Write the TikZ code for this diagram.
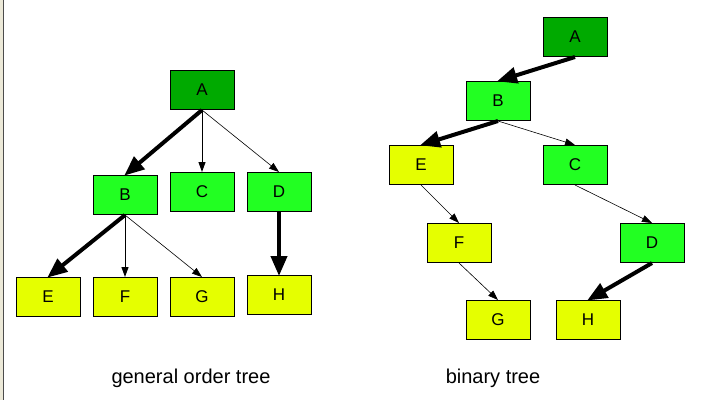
\documentclass[tikz,border=0pt]{standalone}
\usepackage{fontspec}
\setmainfont{Liberation Sans}
\usetikzlibrary{arrows.meta}
\definecolor{rootgreen}{RGB}{0,170,0}
\definecolor{innergreen}{RGB}{34,255,34}
\definecolor{leafyellow}{RGB}{229,255,0}
\definecolor{frameside}{RGB}{236,233,216}

\begin{document}
\begin{tikzpicture}[x=1pt,y=-1pt]
\tikzstyle{every node}=[font=\fontsize{17}{20}\selectfont]
\tikzstyle{box}=[draw=black, line width=1pt, minimum width=64pt, minimum height=39pt, inner sep=0pt]
\tikzstyle{root}=[box, fill=rootgreen]
\tikzstyle{inner}=[box, fill=innergreen]
\tikzstyle{leaf}=[box, fill=leafyellow]
\tikzstyle{heavy}=[line width=4pt, -{Triangle[length=20pt,width=16pt]}, shorten >=-1pt]
\tikzstyle{medium}=[line width=1pt, -{Triangle[length=10pt,width=7pt]}]
\tikzstyle{light}=[line width=0.6pt, -{Triangle[length=10pt,width=7pt]}]
\useasboundingbox (0,0) rectangle (715,400);
\fill[frameside] (0,0) rectangle (3,400);
\draw[gray!60!black, line width=1pt] (3,0) -- (3,400);

% general order tree
\node[root]  (genA) at (202,90)  {A};
\node[inner] (genB) at (125,195) {B};
\node[inner] (genC) at (202,192) {C};
\node[inner] (genD) at (279,192) {D};
\node[leaf]  (genE) at (48,297)  {E};
\node[leaf]  (genF) at (125,297) {F};
\node[leaf]  (genG) at (202,297) {G};
\node[leaf]  (genH) at (279,295) {H};

\draw[heavy]  (genA.south) -- (genB.north);
\draw[medium] (genA.south) -- (genC.north);
\draw[light]  (genA.south) -- (genD.north);
\draw[heavy]  (genB.south) -- (genE.north);
\draw[medium] (genB.south) -- (genF.north);
\draw[light]  (genB.south) -- (genG.north);
\draw[heavy]  (genD.south) -- (genH.north);

% binary tree
\node[root]  (binA) at (575,37)  {A};
\node[inner] (binB) at (498,101) {B};
\node[leaf]  (binE) at (421,165) {E};
\node[inner] (binC) at (575,165) {C};
\node[leaf]  (binF) at (459,243) {F};
\node[inner] (binD) at (652,243) {D};
\node[leaf]  (binG) at (498,320) {G};
\node[leaf]  (binH) at (588,320) {H};

\draw[heavy] (binA.south) -- (binB.north);
\draw[heavy] (binB.south) -- (binE.north);
\draw[light] (binB.south) -- (binC.north);
\draw[light] (binE.south) -- (binF.north);
\draw[light] (binF.south) -- (binG.north);
\draw[light] (binC.south) -- (binD.north);
\draw[heavy] (binD.south) -- (binH.north);

% captions
\node[font=\fontsize{20}{24}\selectfont] (genLabel) at (191,378) {general order tree};
\node[font=\fontsize{20}{24}\selectfont] (binLabel) at (493,378) {binary tree};
\end{tikzpicture}
\end{document}
